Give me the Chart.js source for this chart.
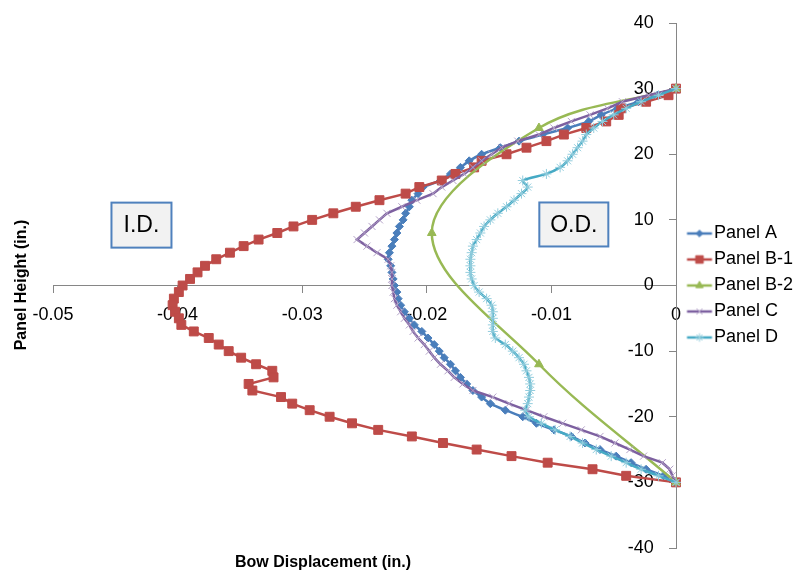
<!DOCTYPE html>
<html><head><meta charset="utf-8">
<script src="https://cdn.jsdelivr.net/npm/chart.js@4.4.1/dist/chart.umd.min.js"></script>
<style>html,body{margin:0;padding:0;background:#fff;}#wrap{width:794px;height:586px;}</style>
</head><body><div id="wrap"><canvas id="c" width="794" height="586"></canvas></div>
<script>
// ---- data ----
const heights = [30,29,28,27,26,25,24,23,22,21,20,19,18,17,16,15,14,13,12,11,10,9,8,7,6,5,4,3,2,1,0,
  -1,-2,-3,-4,-5,-6,-7,-8,-9,-10,-11,-12,-13,-14,-15,-16,-17,-18,-19,-20,-21,-22,-23,-24,-25,-26,-27,-28,-29,-30];
const panelA = [0,-0.0015,-0.0030,-0.0047,-0.0060,-0.0070,-0.0087,-0.0107,-0.0126,-0.0141,
  -0.0156,-0.0166,-0.0173,-0.0181,-0.0189,-0.0203,-0.0207,-0.0212,-0.0214,-0.0217,
  -0.0219,-0.0222,-0.0224,-0.0226,-0.0228,-0.0230,-0.0231,-0.0229,-0.0228,-0.0227,
  -0.0226,-0.0224,-0.0223,-0.0221,-0.0218,-0.0214,-0.0210,-0.0204,-0.0199,-0.0194,
  -0.0190,-0.0186,-0.0181,-0.0177,-0.0173,-0.0168,-0.0163,-0.0156,-0.0149,-0.0137,
  -0.0123,-0.0112,-0.0098,-0.0084,-0.0073,-0.0061,-0.0048,-0.0036,-0.0024,-0.0010,0];
const panelB1 = [0,-0.0006,-0.0024,-0.0044,-0.0046,-0.0056,-0.0072,-0.0090,-0.0104,-0.0120,
  -0.0136,-0.0156,-0.0162,-0.0177,-0.0188,-0.0206,-0.0217,-0.0238,-0.0257,-0.0275,
  -0.0292,-0.0307,-0.0320,-0.0335,-0.0347,-0.0358,-0.0369,-0.0378,-0.0384,-0.0390,
  -0.0396,-0.0399,-0.0403,-0.0404,-0.0402,-0.0399,-0.0397,-0.0387,-0.0375,-0.0367,
  -0.0359,-0.0349,-0.0337,-0.0324,-0.0323,-0.0343,-0.0340,-0.0317,-0.0308,-0.0294,
  -0.0278,-0.0260,-0.0239,-0.0212,-0.0187,-0.0160,-0.0132,-0.0103,-0.0067,-0.0040,0];
const heightsB2 = [30,24,8,-12,-30];
const panelB2 = [0,-0.0110,-0.0196,-0.0110,0];
const panelC = [0,-0.0022,-0.0043,-0.0055,-0.0069,-0.0084,-0.0098,-0.0110,-0.0127,-0.0140,
  -0.0148,-0.0156,-0.0163,-0.0170,-0.0179,-0.0188,-0.0195,-0.0208,-0.0220,-0.0232,
  -0.0238,-0.0244,-0.0250,-0.0256,-0.0248,-0.0240,-0.0231,-0.0229,-0.0228,-0.0228,
  -0.0228,-0.0227,-0.0226,-0.0224,-0.0221,-0.0218,-0.0214,-0.0211,-0.0207,-0.0202,
  -0.0198,-0.0194,-0.0189,-0.0183,-0.0178,-0.0171,-0.0163,-0.0147,-0.0134,-0.0120,
  -0.0106,-0.0091,-0.0076,-0.0061,-0.0049,-0.0037,-0.0026,-0.0011,-0.0005,-0.0003,0];
const panelD = [0,-0.0014,-0.0028,-0.0040,-0.0050,-0.0059,-0.0066,-0.0072,-0.0075,-0.0079,
  -0.0083,-0.0087,-0.0093,-0.0104,-0.0123,-0.0119,-0.0124,-0.0130,-0.0136,-0.0143,
  -0.0149,-0.0154,-0.0157,-0.0160,-0.0163,-0.0164,-0.0165,-0.0165,-0.0165,-0.0164,
  -0.0162,-0.0158,-0.0152,-0.0148,-0.0147,-0.0147,-0.0147,-0.0147,-0.0145,-0.0137,
  -0.0131,-0.0126,-0.0122,-0.0120,-0.0118,-0.0117,-0.0117,-0.0118,-0.0119,-0.0121,
  -0.0118,-0.0108,-0.0097,-0.0085,-0.0075,-0.0064,-0.0052,-0.0040,-0.0028,-0.0014,0];
const seriesNames = ['Panel A','Panel B-1','Panel B-2','Panel C','Panel D'];
const xTickValues = [-0.05,-0.04,-0.03,-0.02,-0.01,0];
const xTickLabels = ['-0.05','-0.04','-0.03','-0.02','-0.01','0'];
const yTickValues = [-40,-30,-20,-10,0,10,20,30,40];
const yTickLabels = ['-40','-30','-20','-10','0','10','20','30','40'];
const xTitle = 'Bow Displacement (in.)';
const yTitle = 'Panel Height (in.)';
const noteLabels = ['I.D.','O.D.'];

// ---- styles ----
const FONT = '"Liberation Sans", Arial, sans-serif';
const styles = [
  {line:'#4A7EBB', mk:'#4A7EBB', shape:'rectRot', r:4, bw:1, tension:0.15},
  {line:'#BE4B48', mk:'#BE4B48', shape:'rect', r:6.3, bw:1, tension:0},
  {line:'#98B954', mk:'#98B954', shape:'triangle', r:5, bw:1, tension:0.35},
  {line:'#7D60A0', mk:'#B3A2C7', shape:'crossRot', r:5, bw:1, tension:0},
  {line:'#46AAC5', mk:'#93CDDD', shape:'star', r:5, bw:1, tension:0.25}
];
const pts = (xs, ys) => xs.map((v, i) => ({x: v, y: ys[i]}));
const seriesData = [pts(panelA, heights), pts(panelB1, heights), pts(panelB2, heightsB2), pts(panelC, heights), pts(panelD, heights)];

const datasets = seriesNames.map((name, i) => ({
  label: name,
  data: seriesData[i],
  showLine: true,
  borderColor: styles[i].line,
  backgroundColor: styles[i].mk,
  borderWidth: 2.5,
  tension: styles[i].tension,
  pointStyle: styles[i].shape,
  pointRadius: styles[i].r,
  pointBorderColor: styles[i].mk,
  pointBackgroundColor: styles[i].mk,
  pointBorderWidth: styles[i].bw,
  pointHoverRadius: styles[i].r,
  clip: false,
  order: 5 - i,
  xAxisID: 'x',
  yAxisID: 'y'
}));

function legendIcon(st) {
  const c = document.createElement('canvas');
  c.width = 60; c.height = 20;
  const g = c.getContext('2d');
  g.strokeStyle = st.line; g.lineWidth = 2.5;
  g.beginPath(); g.moveTo(22.5, 10); g.lineTo(47.5, 10); g.stroke();
  g.fillStyle = st.mk; g.strokeStyle = st.mk; g.lineWidth = st.bw;
  Chart.helpers.drawPoint(g, {pointStyle: st.shape, radius: st.r * 0.85, borderWidth: st.bw}, 35, 10);
  return c;
}

const notes = [
  {text: noteLabels[0], x: -0.0429, y: 9.2, w: 60, h: 45},
  {text: noteLabels[1], x: -0.0082, y: 9.3, w: 69, h: 44}
];

const annotate = {
  id: 'annotate',
  afterDraw(chart) {
    const ctx = chart.ctx;
    const xs = chart.scales.x, ys = chart.scales.y;
    ctx.save();
    notes.forEach(n => {
      const cx = xs.getPixelForValue(n.x), cy = ys.getPixelForValue(n.y);
      ctx.fillStyle = '#F2F2F2';
      ctx.fillRect(cx - n.w / 2, cy - n.h / 2, n.w, n.h);
      ctx.strokeStyle = '#4F81BD'; ctx.lineWidth = 2;
      ctx.strokeRect(cx - n.w / 2, cy - n.h / 2, n.w, n.h);
      ctx.fillStyle = '#000';
      ctx.font = '23px ' + FONT;
      ctx.textAlign = 'center'; ctx.textBaseline = 'middle';
      ctx.fillText(n.text, cx, cy + 1);
    });
    ctx.fillStyle = '#000';
    ctx.font = 'bold 16px ' + FONT;
    ctx.textAlign = 'center'; ctx.textBaseline = 'middle';
    ctx.fillText(xTitle, 323, 563);
    ctx.translate(22, 285);
    ctx.rotate(-Math.PI / 2);
    ctx.fillText(yTitle, 0, 0);
    ctx.restore();
  }
};

const gridStyle = {display: true, drawOnChartArea: false, drawTicks: true, tickLength: 7, color: '#868686'};
const borderStyle = {display: true, color: '#868686', width: 1};

new Chart(document.getElementById('c'), {
  type: 'scatter',
  data: {datasets},
  options: {
    responsive: false,
    animation: false,
    devicePixelRatio: 1,
    layout: {padding: {left: 53, top: 23, bottom: 38, right: 0}},
    scales: {
      x: {
        type: 'linear', min: -0.05, max: 0,
        position: {y: 0},
        afterBuildTicks: s => { s.ticks = xTickValues.map(v => ({value: v})); },
        ticks: {
          callback: (v) => xTickLabels[xTickValues.findIndex(t => Math.abs(t - v) < 1e-9)],
          color: '#000', font: {family: FONT, size: 18}, padding: 12, maxRotation: 0, autoSkip: false
        },
        grid: gridStyle,
        border: borderStyle
      },
      y: {
        type: 'linear', min: -40, max: 40,
        position: {x: 0},
        afterBuildTicks: s => { s.ticks = yTickValues.map(v => ({value: v})); },
        ticks: {display: false},
        grid: gridStyle,
        border: borderStyle
      },
      yLab: {
        type: 'linear', min: -40, max: 40,
        position: {x: -0.00178},
        afterBuildTicks: s => { s.ticks = yTickValues.map(v => ({value: v})); },
        ticks: {
          callback: (v) => yTickLabels[yTickValues.indexOf(v)],
          color: '#000', font: {family: FONT, size: 18}, padding: 0, autoSkip: false
        },
        grid: {display: false},
        border: {display: false}
      }
    },
    plugins: {
      tooltip: {enabled: false},
      legend: {
        position: 'right',
        align: 'center',
        fullSize: false,
        maxWidth: 118,
        labels: {
          usePointStyle: true,
          pointStyleWidth: 21,
          padding: 8,
          color: '#000',
          font: {family: FONT, size: 18},
          generateLabels: (chart) => chart.data.datasets.map((ds, i) => ({
            text: ds.label,
            fillStyle: styles[i].mk,
            strokeStyle: styles[i].mk,
            lineWidth: 0,
            pointStyle: legendIcon(styles[i]),
            hidden: false,
            datasetIndex: i,
            fontColor: '#000'
          }))
        }
      }
    }
  },
  plugins: [annotate]
});
</script>
</body></html>
